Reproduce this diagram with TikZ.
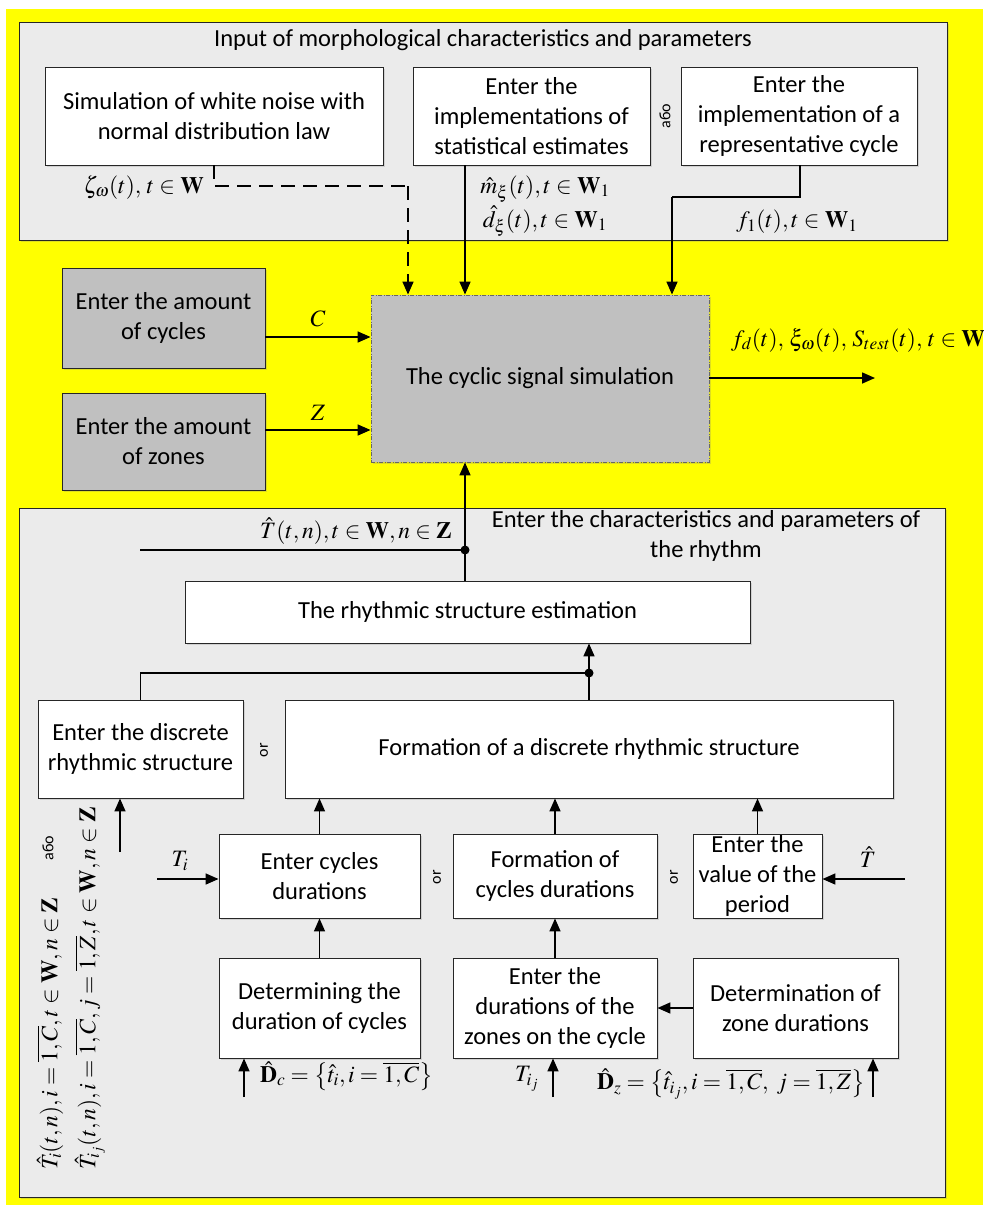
\documentclass[tikz,border=0pt]{standalone}
\usepackage{mathptmx}
\usepackage[no-math]{fontspec}
\setmainfont{Carlito}
\usetikzlibrary{arrows.meta,shadows}
\definecolor{ybg}{HTML}{FFFF00}
\definecolor{panelgray}{HTML}{EBEBEB}
\definecolor{dgray}{HTML}{C0C0C0}
\newcommand\boxfont{\fontsize{24.5}{30}\selectfont}
\newcommand\mfont{\fontsize{23.5}{27}\selectfont}
\tikzset{
  shad/.style={drop shadow={shadow xshift=2pt,shadow yshift=-2pt,opacity=0.25}},
  box/.style={draw=black!85, line width=0.9pt, fill=white, align=center, inner sep=0pt, font=\boxfont, shad},
  gbox/.style={box, fill=dgray},
  mainbox/.style={box, fill=dgray, draw=black!60, dash pattern=on 4pt off 1.5pt on 1pt off 1.5pt},
  panelbox/.style={draw=black!85, line width=1pt, fill=panelgray, inner sep=0pt, shad},
  arr/.style={line width=1.6pt, -{Triangle[length=13pt,width=11pt]}},
  ln/.style={line width=1.6pt},
  dln/.style={line width=1.6pt, dash pattern=on 14pt off 8pt},
  lab/.style={font=\mfont, inner sep=0pt},
  ortext/.style={rotate=90, font=\fontsize{16}{18}\selectfont, inner sep=0pt},
  ttl/.style={font=\boxfont, align=center, inner sep=0pt},
}
\begin{document}
\begin{tikzpicture}[x=1pt,y=-1pt]
\useasboundingbox (0,0) rectangle (983,1205);
\fill[ybg] (6,9) rectangle (983,1205);

% ---------- top panel ----------
\node[panelbox, minimum width=928, minimum height=218] (P1) at (483,131) {};
\node[ttl] (t1) at (483,40) {Input of morphological characteristics and parameters};
\node[box, minimum width=338, minimum height=98] (A) at (214,116) {Simulation of white noise with\\normal distribution law};
\node[box, minimum width=237, minimum height=98] (B) at (531.5,116) {Enter the\\implementations of\\statistical estimates};
\node[box, minimum width=236, minimum height=98] (C) at (799,116) {Enter the\\implementation of a\\representative cycle};
\node[ortext] (abo1) at (665,116) {або};

% ---------- main box and side inputs ----------
\node[mainbox, minimum width=338, minimum height=167] (M) at (540,378.5) {The cyclic signal simulation};
\node[gbox, minimum width=203, minimum height=100] (L1) at (163.5,318) {Enter the amount\\of cycles};
\node[gbox, minimum width=203, minimum height=97] (L2) at (163.5,441.5) {Enter the amount\\of zones};

\coordinate (nA) at (408,186);
\coordinate (xB) at (465,0);
\coordinate (c1) at (800,197);
\coordinate (c2) at (672,197);
\draw[dln] (A.south) |- (nA);
\draw[dln,-{Triangle[length=13pt,width=11pt]}] (nA) -- (nA |- M.north);
\draw[arr] (xB |- B.south) -- (xB |- M.north);
\draw[ln] (c1 |- C.south) -- (c1) -- (c2);
\draw[arr] (c2) -- (c2 |- M.north);
\node[lab, anchor=east] (lz) at (204,187) {$\zeta_\omega(t),\, t\in\mathbf{W}$};
\node[lab] (lm) at (545,189) {$\hat m_\xi(t), t\in\mathbf{W}_1$};
\node[lab] (ld) at (545,221) {$\hat d_\xi(t), t\in\mathbf{W}_1$};
\node[lab] (lf) at (797,222) {$f_1(t), t\in\mathbf{W}_1$};

\coordinate (yC) at (0,337);
\coordinate (yZ) at (0,430);
\draw[arr] (L1.east |- yC) -- node[lab, above=9pt] (lC) {$C$} (M.west |- yC);
\draw[arr] (L2.east |- yZ) -- node[lab, above=9pt] (lZ) {$Z$} (M.west |- yZ);

\coordinate (out) at (875,378);
\draw[arr] (M.east |- out) -- (out);
\node[lab, anchor=west] (lout) at (731,340) {$f_d(t),\, \xi_\omega(t),\, S_{test}(t),\, t\in\mathbf{W}$};

% ---------- bottom panel ----------
\node[panelbox, minimum width=926, minimum height=689] (P2) at (482,852.5) {};
\node[ttl] (t2) at (706,536) {Enter the characteristics and parameters of\\the rhythm};

\node[box, minimum width=565, minimum height=62] (R) at (467.5,612) {The rhythmic structure estimation};
\coordinate (dotT) at (465,550);
\coordinate (Tl) at (140,550);
\draw[arr] (dotT |- R.north) -- (dotT |- M.south);
\draw[ln] (Tl) -- (dotT);
\fill (dotT) circle (4.5);
\node[lab, anchor=east] (lT) at (452,531) {$\hat T(t,n), t\in\mathbf{W}, n\in\mathbf{Z}$};

\node[box, minimum width=205, minimum height=98] (D1) at (140.5,749) {Enter the discrete\\rhythmic structure};
\node[box, minimum width=608, minimum height=98] (F) at (589,749) {Formation of a discrete rhythmic structure};
\node[ortext] (or1) at (264,750) {or};
\coordinate (dotF) at (589,673);
\draw[ln] (D1.north) |- (dotF);
\draw[ln] (F.north) -- (dotF);
\draw[arr] (dotF) -- (dotF |- R.south);
\fill (dotF) circle (4.5);
\coordinate (inD) at (120,852);
\draw[arr] (inD) -- (inD |- D1.south);

\node[box, minimum width=201, minimum height=84] (E1) at (319.5,876) {Enter cycles\\durations};
\node[box, minimum width=204, minimum height=84] (E2) at (555,876) {Formation of\\cycles durations};
\node[box, minimum width=129, minimum height=84] (E3) at (757.5,876) {Enter the\\value of the\\period};
\node[ortext] (or2) at (437,877) {or};
\node[ortext] (or3) at (674,877) {or};
\draw[arr] (E1.north) -- (E1.north |- F.south);
\draw[arr] (E2.north) -- (E2.north |- F.south);
\draw[arr] (E3.north) -- (E3.north |- F.south);

\coordinate (inTi) at (157,879);
\coordinate (inTh) at (905,879);
\draw[arr] (inTi) -- (E1.west |- inTi);
\draw[arr] (inTh) -- (E3.east |- inTh);
\node[lab] (lTi) at (180,861) {$T_i$};
\node[lab] (lTh) at (868,857) {$\hat T$};

\node[box, minimum width=201, minimum height=100] (G1) at (319.5,1008) {Determining the\\duration of cycles};
\node[box, minimum width=204, minimum height=100] (G2) at (555,1008) {Enter the\\durations of the\\zones on the cycle};
\node[box, minimum width=205, minimum height=100] (G3) at (795.5,1008) {Determination of\\zone durations};
\draw[arr] (G1.north) -- (E1.south);
\draw[arr] (G2.north) -- (E2.south);
\draw[arr] (G3.west) -- (G2.east);

\coordinate (in1) at (244,1097);
\coordinate (in2) at (553,1097);
\coordinate (in3) at (873,1097);
\draw[arr] (in1) -- (in1 |- G1.south);
\draw[arr] (in2) -- (in2 |- G2.south);
\draw[arr] (in3) -- (in3 |- G3.south);
\node[lab, anchor=west] (lDc) at (260,1076) {$\hat{\mathbf{D}}_c=\left\{\hat t_i, i=\overline{1,C}\right\}$};
\node[lab] (lTij) at (527,1079) {$T_{i_j}$};
\node[lab, anchor=east] (lDz) at (865,1084) {$\hat{\mathbf{D}}_z=\left\{\hat t_{i_j}, i=\overline{1,C},\ j=\overline{1,Z}\right\}$};

\node[lab, rotate=90, anchor=west] (rot1) at (50,1170) {$\hat T_i(t,n), i=\overline{1,C}, t\in\mathbf{W}, n\in\mathbf{Z}$};
\node[lab, rotate=90, anchor=west] (rot2) at (90,1170) {$\hat T_{i_j}(t,n), i=\overline{1,C}, j=\overline{1,Z}, t\in\mathbf{W}, n\in\mathbf{Z}$};
\node[ortext] (abo2) at (48,848) {або};
\end{tikzpicture}
\end{document}
